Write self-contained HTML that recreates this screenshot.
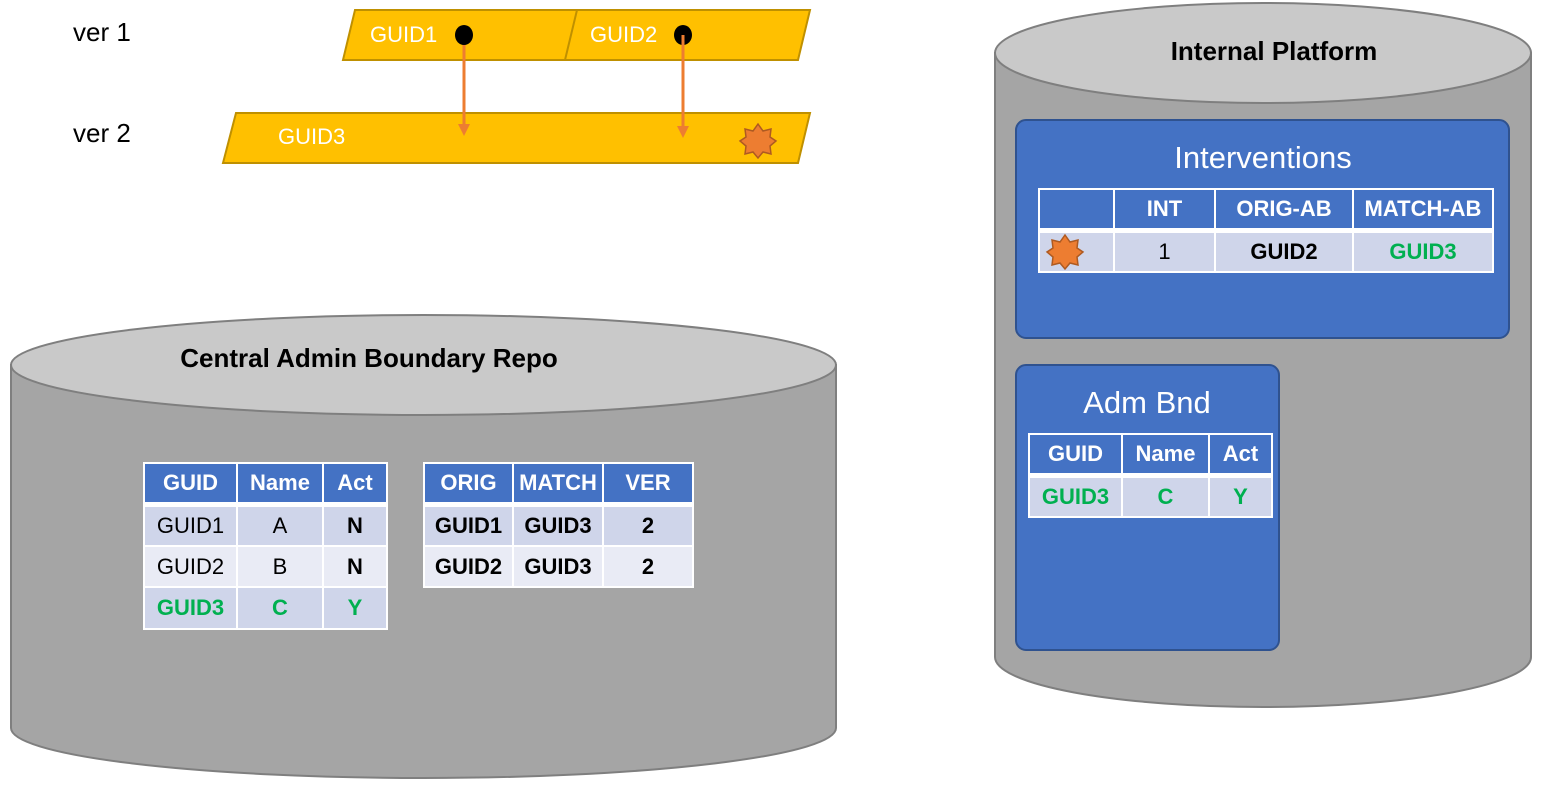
<!DOCTYPE html>
<html><head><meta charset="utf-8"><style>
body{margin:0;width:1542px;height:787px;background:#fff;position:relative;overflow:hidden;font-family:"Liberation Sans",sans-serif}
svg{position:absolute;left:0;top:0}
table{position:absolute;border-collapse:collapse;table-layout:fixed;font-size:22px}
td{border:2px solid #fff;padding:0;text-align:center;white-space:nowrap;overflow:hidden}
tr.h td{background:#4472C4;color:#fff;font-weight:bold;border-bottom:5px solid #fff}
tr.a td{background:#CFD5EA}
tr.b td{background:#E9EBF5}
.g{color:#00B050;font-weight:bold}
.k{font-weight:bold}
td svg{position:static;display:block}
</style></head><body>
<svg width="1542" height="787" viewBox="0 0 1542 787">
<text x="73" y="41" font-size="26" fill="#000">ver 1</text>
<text x="73" y="142" font-size="26" fill="#000">ver 2</text>
<polygon points="355,10 810,10 798,60 343,60" fill="#FFC000" stroke="#BF9000" stroke-width="2"/>
<line x1="577" y1="10" x2="565" y2="60" stroke="#BF9000" stroke-width="2"/>
<polygon points="236,113 810,113 798,163 223,163" fill="#FFC000" stroke="#BF9000" stroke-width="2"/>
<text x="370" y="42" font-size="22" fill="#fff">GUID1</text>
<text x="590" y="42" font-size="22" fill="#fff">GUID2</text>
<text x="278" y="144" font-size="22" fill="#fff">GUID3</text>
<ellipse cx="464" cy="35" rx="9" ry="10" fill="#000"/>
<ellipse cx="683" cy="35" rx="9" ry="10" fill="#000"/>
<line x1="464" y1="45" x2="464" y2="128" stroke="#ED7D31" stroke-width="3"/>
<polygon points="458,124 470,124 464,136" fill="#ED7D31"/>
<line x1="683" y1="35" x2="683" y2="128" stroke="#ED7D31" stroke-width="3"/>
<polygon points="677,126 689,126 683,138" fill="#ED7D31"/>
<polygon points="758,124 763,131 771,129 770,137 776,141 770,146 771,154 763,152 758,158 753,152 745,154 746,146 740,141 746,137 745,129 753,131" fill="#ED7D31" stroke="#AE5A21" stroke-width="1.5"/>
<path d="M11,365 L11,728 A412.5,50 0 0 0 836,728 L836,365 Z" fill="#A5A5A5" stroke="#7F7F7F" stroke-width="2"/>
<ellipse cx="423.5" cy="365" rx="412.5" ry="50" fill="#C9C9C9" stroke="#7F7F7F" stroke-width="2"/>
<text x="369" y="367" font-size="26" font-weight="bold" text-anchor="middle">Central Admin Boundary Repo</text>
<path d="M995,53 L995,657 A268,50 0 0 0 1531,657 L1531,53 Z" fill="#A5A5A5" stroke="#7F7F7F" stroke-width="2"/>
<ellipse cx="1263" cy="53" rx="268" ry="50" fill="#C9C9C9" stroke="#7F7F7F" stroke-width="2"/>
<text x="1274" y="60" font-size="26" font-weight="bold" text-anchor="middle">Internal Platform</text>
<rect x="1016" y="120" width="493" height="218" rx="10" fill="#4472C4" stroke="#2F528F" stroke-width="2"/>
<text x="1263" y="168" font-size="31" fill="#fff" text-anchor="middle">Interventions</text>
<rect x="1016" y="365" width="263" height="285" rx="10" fill="#4472C4" stroke="#2F528F" stroke-width="2"/>
<text x="1147" y="413" font-size="31" fill="#fff" text-anchor="middle">Adm Bnd</text>
</svg>
<table style="left:143px;top:462px;width:243px">
<colgroup><col style="width:93px"><col style="width:86px"><col style="width:64px"></colgroup>
<tr class="h" style="height:41px"><td>GUID</td><td>Name</td><td>Act</td></tr>
<tr class="a" style="height:42px"><td>GUID1</td><td>A</td><td class="k">N</td></tr>
<tr class="b" style="height:41px"><td>GUID2</td><td>B</td><td class="k">N</td></tr>
<tr class="a" style="height:42px"><td class="g">GUID3</td><td class="g">C</td><td class="g">Y</td></tr>
</table>
<table style="left:423px;top:462px;width:269px">
<colgroup><col style="width:89px"><col style="width:90px"><col style="width:90px"></colgroup>
<tr class="h" style="height:41px"><td>ORIG</td><td>MATCH</td><td>VER</td></tr>
<tr class="a" style="height:42px"><td class="k">GUID1</td><td class="k">GUID3</td><td class="k">2</td></tr>
<tr class="b" style="height:41px"><td class="k">GUID2</td><td class="k">GUID3</td><td class="k">2</td></tr>
</table>
<table style="left:1038px;top:188px;width:454px">
<colgroup><col style="width:75px"><col style="width:101px"><col style="width:138px"><col style="width:140px"></colgroup>
<tr class="h" style="height:41px"><td></td><td>INT</td><td>ORIG-AB</td><td>MATCH-AB</td></tr>
<tr class="a" style="height:42px"><td><svg width="75" height="38" viewBox="1038 231 75 38"><polygon points="1063,233 1068,240 1076,238 1075,246 1081,250 1075,255 1076,263 1068,261 1063,267 1058,261 1050,263 1051,255 1045,250 1051,246 1050,238 1058,240" fill="#ED7D31" stroke="#AE5A21" stroke-width="1.5"/></svg></td><td>1</td><td class="k">GUID2</td><td class="g">GUID3</td></tr>
</table>
<table style="left:1028px;top:433px;width:243px">
<colgroup><col style="width:93px"><col style="width:87px"><col style="width:63px"></colgroup>
<tr class="h" style="height:41px"><td>GUID</td><td>Name</td><td>Act</td></tr>
<tr class="a" style="height:42px"><td class="g">GUID3</td><td class="g">C</td><td class="g">Y</td></tr>
</table>
</body></html>
